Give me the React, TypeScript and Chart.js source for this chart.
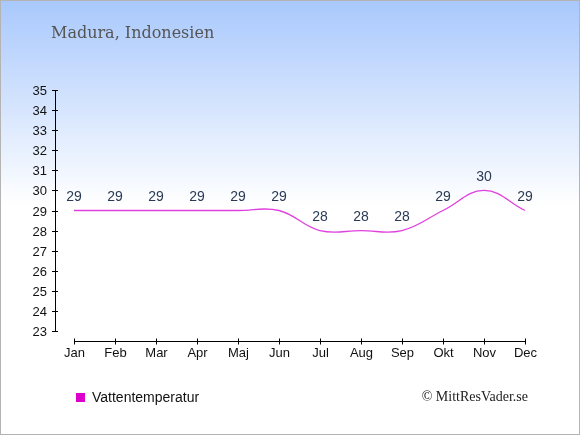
import React, { useEffect, useRef } from "react";
import { Chart, registerables } from "chart.js";

Chart.register(...registerables);

const months = ["Jan", "Feb", "Mar", "Apr", "Maj", "Jun", "Jul", "Aug", "Sep", "Okt", "Nov", "Dec"];
const waterTemp = [29, 29, 29, 29, 29, 29, 28, 28, 28, 29, 30, 29];
const yTicks = [23, 24, 25, 26, 27, 28, 29, 30, 31, 32, 33, 34, 35];
const titleText = "Madura, Indonesien";
const legendText = "Vattentemperatur";
const creditText = "© MittResVader.se";

const SANS = "'Liberation Sans', Arial, sans-serif";
const SERIF = "'DejaVu Serif', serif";
const SERIF2 = "'Liberation Serif', 'Times New Roman', serif";

const decorPlugin = {
  id: "decor",
  beforeDraw(chart: any) {
    const { ctx, width, height } = chart;
    ctx.save();
    const g = ctx.createLinearGradient(0, 0, 0, 205);
    g.addColorStop(0, "#a8c8fc");
    g.addColorStop(1, "#ffffff");
    ctx.fillStyle = "#ffffff";
    ctx.fillRect(0, 0, width, height);
    ctx.fillStyle = g;
    ctx.fillRect(0, 0, width, 205);
    ctx.restore();
  },
  afterDraw(chart: any) {
    const { ctx, width, height } = chart;
    const xs = chart.scales.x;
    const ys = chart.scales.y;
    ctx.save();
    // border
    ctx.strokeStyle = "#b4b4b4";
    ctx.lineWidth = 1;
    ctx.strokeRect(0.5, 0.5, width - 1, height - 1);

    // title
    ctx.fillStyle = "#555555";
    ctx.font = `16px ${SERIF}`;
    ctx.textAlign = "left";
    ctx.textBaseline = "alphabetic";
    ctx.fillText(titleText, 51, 38);

    // y axis
    const axX = 55;
    ctx.strokeStyle = "#000000";
    ctx.lineWidth = 1;
    ctx.beginPath();
    ctx.moveTo(axX + 0.5, ys.getPixelForValue(yTicks[yTicks.length - 1]));
    ctx.lineTo(axX + 0.5, ys.getPixelForValue(yTicks[0]));
    ctx.stroke();
    ctx.font = `13px ${SANS}`;
    ctx.fillStyle = "#111111";
    ctx.textAlign = "right";
    ctx.textBaseline = "middle";
    yTicks.forEach((v) => {
      const y = Math.round(ys.getPixelForValue(v)) + 0.5;
      ctx.beginPath();
      ctx.moveTo(axX - 3, y);
      ctx.lineTo(axX + 3, y);
      ctx.stroke();
      ctx.fillText(String(v), axX - 8, y + 1);
    });

    // x axis
    const axY = 341.5;
    ctx.beginPath();
    ctx.moveTo(xs.getPixelForValue(0), axY);
    ctx.lineTo(xs.getPixelForValue(months.length - 1), axY);
    ctx.stroke();
    ctx.textAlign = "center";
    ctx.textBaseline = "middle";
    months.forEach((m, i) => {
      const x = Math.round(xs.getPixelForValue(i)) + 0.5;
      ctx.beginPath();
      ctx.moveTo(x, axY - 3);
      ctx.lineTo(x, axY + 3);
      ctx.stroke();
      ctx.fillText(m, x, 353);
    });

    // value labels
    ctx.fillStyle = "#2a3a55";
    ctx.font = `14px ${SANS}`;
    waterTemp.forEach((v, i) => {
      ctx.fillText(String(v), xs.getPixelForValue(i), ys.getPixelForValue(v) - 13);
    });

    // legend
    ctx.fillStyle = "#dd00cc";
    ctx.fillRect(76, 393, 9, 9);
    ctx.fillStyle = "#111111";
    ctx.font = `14px ${SANS}`;
    ctx.textAlign = "left";
    ctx.fillText(legendText, 92, 398);

    // credit
    ctx.fillStyle = "#222222";
    ctx.font = `14px ${SERIF2}`;
    ctx.textAlign = "right";
    ctx.fillText(creditText, 528, 397);
    ctx.restore();
  },
};

export default function App() {
  const ref = useRef<HTMLCanvasElement | null>(null);
  useEffect(() => {
    document.body.style.margin = "0";
    const chart = new Chart(ref.current as HTMLCanvasElement, {
      type: "line",
      data: {
        labels: months,
        datasets: [
          {
            label: legendText,
            data: waterTemp,
            borderColor: "#e040e0",
            borderWidth: 1.3,
            pointRadius: 0,
            tension: 0.4,
            fill: false,
          },
        ],
      },
      options: {
        animation: false,
        responsive: false,
        layout: { padding: { left: 74, right: 55, top: 90, bottom: 104 } },
        plugins: { legend: { display: false }, tooltip: { enabled: false }, title: { display: false } },
        scales: {
          x: { type: "category", display: false, offset: false },
          y: { display: false, min: 23, max: 35 },
        },
      },
      plugins: [decorPlugin],
    });
    return () => chart.destroy();
  }, []);
  return (
    <div style={{ position: "fixed", left: 0, top: 0, width: 580, height: 435 }}>
      <canvas ref={ref} width={580} height={435} style={{ width: 580, height: 435, display: "block" }} />
    </div>
  );
}
